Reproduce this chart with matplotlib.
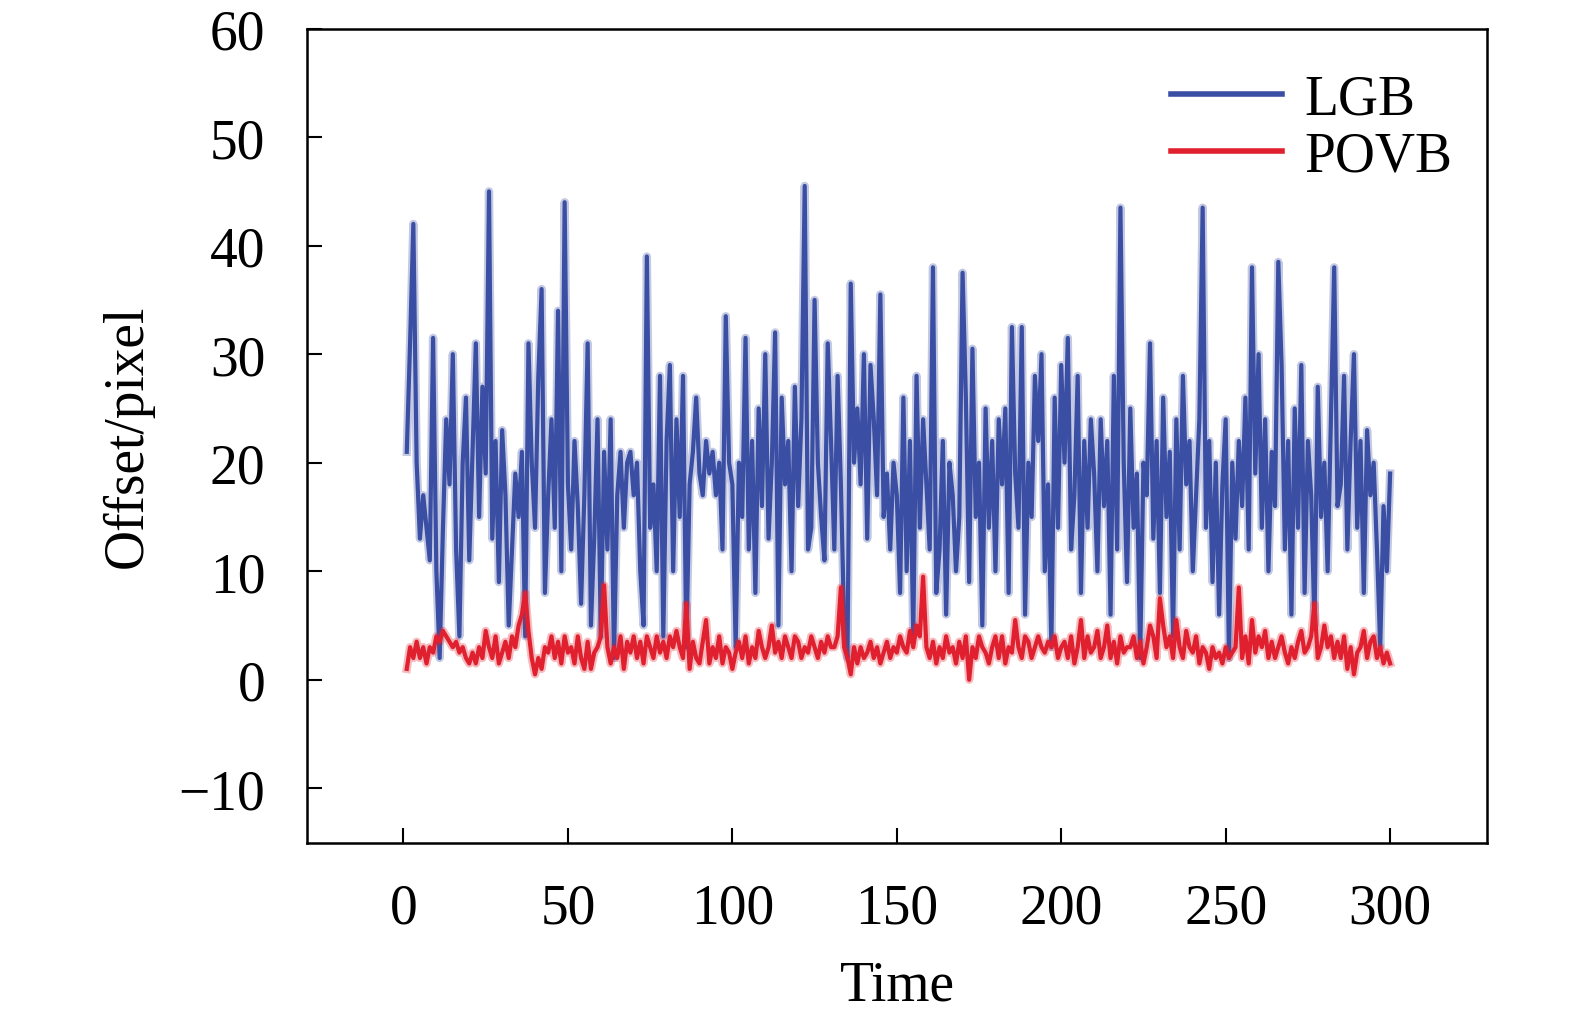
import matplotlib
matplotlib.use('Agg')
import matplotlib.pyplot as plt

# time axis
t = list(range(1, 301))

lgb = [21, 31, 42, 20, 13, 17, 14, 11, 31.5, 10,
       2, 14, 24, 18, 30, 12, 4, 20, 26, 11,
       21, 31, 15, 27, 19, 45, 13, 22, 9, 23,
       17, 5, 12, 19, 15, 21, 4, 31, 20, 14,
       28, 36, 8, 17, 24, 14, 34, 10, 44, 18,
       12, 22, 16, 7, 17, 31, 5, 13, 24, 4,
       21, 12, 24, 2, 17, 21, 14, 20, 21, 17,
       20, 10, 5, 39, 14, 18, 10, 28, 4, 22,
       29, 10, 24, 15, 28, 3, 18, 21, 26, 19,
       17, 22, 19, 21, 17, 20, 12, 33.5, 20, 18,
       3, 20, 15, 31.5, 12, 22, 8, 25, 16, 30,
       13, 20, 32, 5, 26, 18, 22, 10, 27, 16,
       24, 45.5, 12, 14, 35, 20, 15, 11, 31, 22,
       12, 28, 18, 5, 2, 36.5, 20, 25, 18, 30,
       13, 29, 24, 17, 35.5, 15, 19, 12, 20, 17,
       8, 26, 10, 22, 4, 28, 14, 24, 18, 12,
       38, 8, 12, 22, 6, 20, 17, 10, 15, 37.5,
       26, 9, 30.5, 15, 20, 5, 25, 14, 22, 10,
       24, 18, 25, 8, 32.5, 19, 14, 32.5, 6, 20,
       15, 28, 22, 30, 10, 18, 3, 26, 14, 29,
       20, 31.5, 12, 17, 28, 8, 22, 14, 24, 19,
       10, 24, 16, 22, 6, 28, 12, 43.5, 20, 9,
       25, 14, 19, 2, 20, 17, 31, 13, 22, 8,
       26, 15, 21, 4, 24, 12, 28, 18, 22, 10,
       17, 24, 43.5, 14, 22, 9, 20, 6, 18, 24,
       2, 20, 13, 22, 16, 26, 12, 38, 19, 30,
       14, 24, 10, 21, 16, 38.5, 29, 12, 22, 6,
       25, 14, 29, 8, 22, 17, 5, 27, 15, 20,
       10, 24, 38, 16, 18, 28, 12, 22, 30, 14,
       22, 8, 23, 17, 20, 12, 3, 16, 10, 19]

povb = [1, 3, 2, 3.5, 2, 3, 1.5, 3, 2.5, 4,
        3.5, 4.5, 4, 3.5, 3, 3.5, 2.5, 3, 2, 1.5,
        2.5, 1.5, 3, 2, 4.5, 3, 2, 4, 1.5, 2.5,
        3.5, 2, 4, 3, 5, 6, 8, 4.5, 2, 0.5,
        2, 1, 3, 2.5, 4, 2, 3.5, 1.5, 4, 2.5,
        3, 1.5, 4, 2, 1, 3.5, 1, 2.5, 3, 4,
        8.7, 3, 1.5, 3, 2, 4, 1, 3.5, 2.5, 4,
        2, 3.5, 1.5, 4, 3, 2, 4, 2.5, 3.5, 2,
        4, 3, 4.5, 3, 2, 7, 1, 3.5, 2, 1.5,
        3.5, 5.5, 1.5, 3, 2, 4, 1.5, 3, 2.5, 1,
        2.5, 3.5, 2, 4, 1.5, 3, 2, 4.5, 3, 2,
        3, 5, 2.5, 3.5, 2, 4, 3, 2, 4, 3.5,
        2, 3, 2.5, 4, 3, 2, 3.5, 2.5, 4, 3,
        3, 4, 8.5, 3, 2, 0.5, 3, 1.5, 3, 2,
        2.5, 3.5, 2, 3, 1.5, 2.5, 3.5, 2, 3, 2.5,
        4, 3, 2.5, 4.5, 3, 5, 4, 9.5, 3, 2,
        3.5, 1.5, 3, 2, 4, 2.5, 3, 1.5, 3.5, 2,
        4, 0, 3, 2, 4, 3, 2.5, 1.5, 3, 4,
        2, 4, 1.5, 3, 2.5, 5.5, 3, 2, 4, 3.5,
        2, 3, 4, 3, 2.5, 3.5, 3, 4, 2, 3,
        3.5, 2, 4, 1.5, 3, 5.5, 2, 4, 2.5, 3,
        4.5, 2, 3, 5, 2, 3.5, 1.5, 4, 2.5, 3,
        3, 4, 2, 3.5, 1.5, 3, 5, 4, 2, 7.5,
        5, 3, 4, 2, 5.5, 3, 2, 4.5, 3, 2.5,
        4, 1.5, 3, 2.5, 1, 3, 2, 2.5, 1.5, 3,
        2, 2.5, 3, 8.5, 2, 4, 1.5, 5.5, 2.5, 4,
        3, 4.5, 2, 3.5, 2, 3, 4, 2.5, 1.5, 3,
        2, 3.5, 4.5, 2.5, 3, 4, 7, 2, 3, 5,
        3, 4, 2, 3.5, 2, 4, 1, 3, 0.5, 2.5,
        3, 4.5, 2, 3.5, 4, 2, 3, 1.5, 2.5, 1.5]

plt.rcParams['font.family'] = ['Liberation Serif', 'DejaVu Serif']

fig = plt.figure(figsize=(15.75, 10.2), dpi=100)
ax = fig.add_axes([0.195, 0.173, 0.749, 0.798])

blue = '#3a4ea3'
red = '#e0202e'
# soft fringe under each line, like the blurred original
ax.plot(t, lgb, color=blue, lw=6, alpha=0.3)
ax.plot(t, lgb, color=blue, lw=3, label='LGB')
ax.plot(t, povb, color=red, lw=6, alpha=0.3)
ax.plot(t, povb, color=red, lw=3, label='POVB')

ax.set_xlim(-29.3, 329.4)
ax.set_ylim(-15, 60)
ax.set_xticks([0, 50, 100, 150, 200, 250, 300])
ax.set_yticks([-10, 0, 10, 20, 30, 40, 50, 60])
ax.tick_params(direction='in', length=11, width=1.5, labelsize=40,
               top=False, right=False)
ax.tick_params(axis='x', pad=29)
ax.tick_params(axis='y', pad=30)
for s in ax.spines.values():
    s.set_linewidth(1.8)

ax.set_xlabel('Time', fontsize=40, labelpad=18)
ax.set_ylabel('Offset/pixel', fontsize=40, labelpad=18)

leg = ax.legend(loc='upper right', fontsize=40, frameon=False,
                handlelength=2.0, handletextpad=0.4, labelspacing=0.1,
                borderaxespad=0.3, bbox_to_anchor=(1.004, 0.993))
for line in leg.get_lines():
    line.set_linewidth(4)

fig.savefig('out.png', dpi=100)
